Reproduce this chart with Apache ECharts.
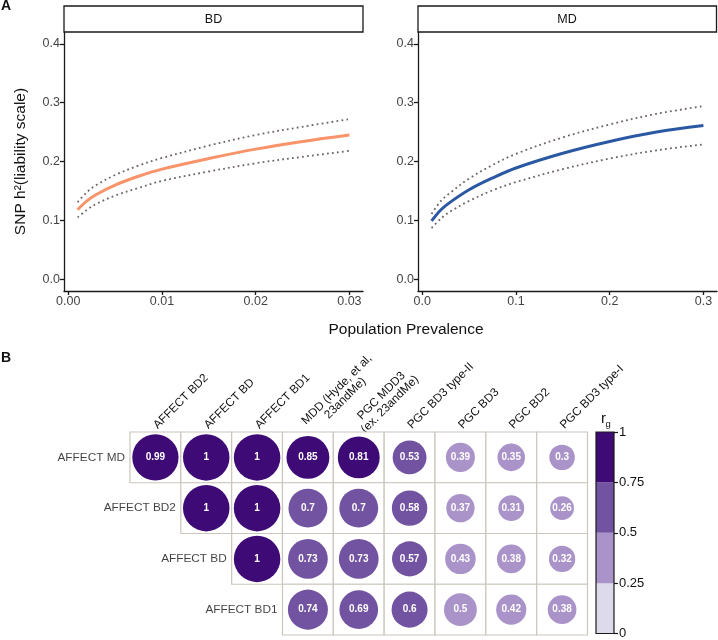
<!DOCTYPE html>
<html><head><meta charset="utf-8">
<script src="https://cdn.jsdelivr.net/npm/echarts@6/dist/echarts.min.js"></script>
<style>html,body{margin:0;padding:0;background:#fff}#c{width:718px;height:640px}</style>
</head><body><div id="c"></div>
<script>
// ---------- Panel A data ----------
const bdK     = [0.001, 0.002, 0.003, 0.005, 0.0075, 0.01, 0.015, 0.02, 0.025, 0.03];
const bdH2    = [0.118, 0.133, 0.144, 0.160, 0.175, 0.187, 0.205, 0.221, 0.234, 0.245];
const bdUpper = [0.131, 0.148, 0.160, 0.177, 0.193, 0.206, 0.227, 0.245, 0.259, 0.272];
const bdLower = [0.105, 0.118, 0.128, 0.142, 0.155, 0.167, 0.183, 0.197, 0.208, 0.218];

const mdK     = [0.01, 0.02, 0.03, 0.05, 0.075, 0.1, 0.15, 0.2, 0.25, 0.3];
const mdH2    = [0.099, 0.118, 0.131, 0.152, 0.172, 0.189, 0.214, 0.234, 0.250, 0.261];
const mdUpper = [0.111, 0.133, 0.147, 0.171, 0.194, 0.213, 0.241, 0.263, 0.281, 0.294];
const mdLower = [0.087, 0.103, 0.115, 0.133, 0.151, 0.165, 0.187, 0.205, 0.219, 0.229];

const bdXTicks = [0, 0.01, 0.02, 0.03];
const mdXTicks = [0, 0.1, 0.2, 0.3];
const h2YTicks = [0, 0.1, 0.2, 0.3, 0.4];

// ---------- Panel B data ----------
const rowNames = ['AFFECT MD', 'AFFECT BD2', 'AFFECT BD', 'AFFECT BD1'];
const colNames = ['AFFECT BD2', 'AFFECT BD', 'AFFECT BD1', 'MDD (Hyde, et al,\n23andMe)',
                  'PGC MDD3\n(ex. 23andMe)', 'PGC BD3 type-II', 'PGC BD3', 'PGC BD2', 'PGC BD3 type-I'];
const rgAffectMD  = [0.99, 1, 1, 0.85, 0.81, 0.53, 0.39, 0.35, 0.3];
const rgAffectBD2 = [null, 1, 1, 0.7, 0.7, 0.58, 0.37, 0.31, 0.26];
const rgAffectBD  = [null, null, 1, 0.73, 0.73, 0.57, 0.43, 0.38, 0.32];
const rgAffectBD1 = [null, null, null, 0.74, 0.69, 0.6, 0.5, 0.42, 0.38];
const rgBreaks = [0, 0.25, 0.5, 0.75, 1];
const rgColors = ['#dcdaeb', '#a993c9', '#7253a1', '#3e0a76'];

// ---------- build ----------
const FONT = 'Liberation Sans, Arial, Helvetica, sans-serif';
const rgRows = [rgAffectMD, rgAffectBD2, rgAffectBD, rgAffectBD1];
const cells = [], circles = [], rowLabelPts = [];
rgRows.forEach((row, r) => {
  let first = -1;
  row.forEach((v, c) => {
    if (v === null) return;
    if (first < 0) first = c;
    cells.push([c, r]);
    circles.push([c, r, v]);
  });
  rowLabelPts.push([first, r]);
});
function rgColor(v) {
  for (let i = rgBreaks.length - 2; i >= 0; i--) if (v > rgBreaks[i]) return rgColors[i];
  return rgColors[0];
}
const pairs = (xs, ys) => xs.map((x, i) => [x, ys[i]]);

const corrGrid = {left: 130, top: 432, width: 457.5, height: 203};
const cellW = corrGrid.width / colNames.length;

const axisLineStyle = {color: '#1a1a1a', width: 1.3};
function valueX(idx, min, max, ticks, dec) {
  return {
    type: 'value', gridIndex: idx, min: min, max: max,
    axisLine: {show: true, onZero: false, lineStyle: axisLineStyle},
    axisTick: {show: true, customValues: ticks, length: 4, lineStyle: axisLineStyle},
    axisLabel: {customValues: ticks, formatter: v => v.toFixed(dec), fontSize: 12.5, color: '#444', margin: 4, fontFamily: FONT},
    splitLine: {show: false}
  };
}
function valueY(idx, withName) {
  const o = {
    type: 'value', gridIndex: idx, min: -0.02, max: 0.42,
    axisLine: {show: true, onZero: false, lineStyle: axisLineStyle},
    axisTick: {show: true, customValues: h2YTicks, length: 4, lineStyle: axisLineStyle},
    axisLabel: {customValues: h2YTicks, formatter: v => v.toFixed(1), fontSize: 12.5, color: '#444', margin: 4, fontFamily: FONT},
    splitLine: {show: false}
  };
  if (withName) {
    o.name = 'SNP h\u00b2(liability scale)';
    o.nameLocation = 'middle';
    o.nameGap = 35;
    o.nameTextStyle = {fontSize: 15.5, color: '#111', fontFamily: FONT};
  }
  return o;
}
const dotted = (color) => ({color: color, width: 1.8, type: [1.8, 3.2]});
function lineSeries(ix, data, style, z) {
  return {type: 'line', xAxisIndex: ix, yAxisIndex: ix, data: data, symbol: 'none', showSymbol: false,
          smooth: 0.35, lineStyle: style, z: z, silent: true};
}
const dotColor = '#6f6464';

const barSeries = rgColors.map((col, i) => ({
  type: 'bar', xAxisIndex: 3, yAxisIndex: 3, stack: 'rg', barWidth: '100%',
  data: [rgBreaks[i + 1] - rgBreaks[i]], itemStyle: {color: col}, silent: true
}));

const option = {
  animation: false,
  backgroundColor: '#fff',
  textStyle: {fontFamily: FONT},
  grid: [
    {left: 64, top: 32, width: 299, height: 259},
    {left: 418, top: 32, width: 299, height: 259},
    corrGrid,
    {left: 596, top: 432, width: 18, height: 202, show: true, borderColor: '#1a1a1a', borderWidth: 1.2,
     backgroundColor: 'transparent', z: 10}
  ],
  xAxis: [
    valueX(0, -0.00045, 0.03145, bdXTicks, 2),
    valueX(1, -0.0045, 0.3145, mdXTicks, 1),
    {type: 'category', gridIndex: 2, data: colNames, position: 'top',
     axisLine: {show: false}, axisTick: {show: false}, splitLine: {show: false},
     axisLabel: {interval: 0, rotate: -45, margin: 5, fontSize: 11.8, color: '#111', fontFamily: FONT,
                 formatter: v => v.split('\n').map(s => '{c|' + s + '}').join('\n'),
                 rich: {c: {align: 'center', fontSize: 11.8, color: '#111', fontFamily: FONT, lineHeight: 12}}}},
    {type: 'category', gridIndex: 3, data: ['rg'], show: false}
  ],
  yAxis: [
    valueY(0, true),
    valueY(1, false),
    {type: 'category', gridIndex: 2, data: rowNames, inverse: true, show: false},
    {type: 'value', gridIndex: 3, min: 0, max: 1, interval: 0.25, position: 'right',
     axisLine: {show: false}, axisTick: {show: true, length: 4, lineStyle: {color: '#1a1a1a', width: 1.2}},
     axisLabel: {fontSize: 13, color: '#111', margin: 5, fontFamily: FONT}, splitLine: {show: false}}
  ],
  series: [
    lineSeries(0, pairs(bdK, bdUpper), dotted(dotColor), 2),
    lineSeries(0, pairs(bdK, bdLower), dotted(dotColor), 2),
    lineSeries(0, pairs(bdK, bdH2), {color: '#f8936a', width: 3}, 3),
    lineSeries(1, pairs(mdK, mdUpper), dotted(dotColor), 2),
    lineSeries(1, pairs(mdK, mdLower), dotted(dotColor), 2),
    lineSeries(1, pairs(mdK, mdH2), {color: '#2a58a3', width: 3}, 3),
    {type: 'custom', xAxisIndex: 2, yAxisIndex: 2, data: cells, silent: true, z: 1,
     renderItem: function (params, api) {
       const c = api.coord([api.value(0), api.value(1)]);
       const s = api.size([1, 1]);
       return {type: 'rect', shape: {x: c[0] - s[0] / 2, y: c[1] - s[1] / 2, width: s[0], height: s[1]},
               style: {fill: '#fff', stroke: '#cbc5bc', lineWidth: 1.2}};
     }},
    {type: 'scatter', xAxisIndex: 2, yAxisIndex: 2, data: circles, z: 3, silent: true,
     symbol: 'circle', symbolSize: v => 46.5 * Math.sqrt(v[2]),
     itemStyle: {color: p => rgColor(p.data[2]), opacity: 1},
     label: {show: true, position: 'inside', formatter: p => String(p.data[2]), color: '#fff',
             fontSize: 10, fontWeight: 'bold', fontFamily: FONT}},
    {type: 'scatter', xAxisIndex: 2, yAxisIndex: 2, data: rowLabelPts, z: 3, silent: true,
     symbol: 'rect', symbolSize: [cellW, 1], itemStyle: {color: 'rgba(0,0,0,0)'},
     label: {show: true, position: 'left', distance: 5, formatter: p => rowNames[p.data[1]],
             color: '#111', fontSize: 11.8, fontFamily: FONT}}
  ].concat(barSeries),
  graphic: [
    {type: 'rect', shape: {x: 64, y: 6, width: 299, height: 26}, style: {fill: '#fff', stroke: '#1a1a1a', lineWidth: 1.3}, z: 5},
    {type: 'text', x: 213.5, y: 19.5, style: {text: 'BD', fontSize: 12.5, fill: '#111', align: 'center', verticalAlign: 'middle', fontFamily: FONT}, z: 6},
    {type: 'rect', shape: {x: 418, y: 6, width: 298.5, height: 26}, style: {fill: '#fff', stroke: '#1a1a1a', lineWidth: 1.3}, z: 5},
    {type: 'text', x: 567, y: 19.5, style: {text: 'MD', fontSize: 12.5, fill: '#111', align: 'center', verticalAlign: 'middle', fontFamily: FONT}, z: 6},
    {type: 'text', x: 406, y: 330, style: {text: 'Population Prevalence', fontSize: 15.5, fill: '#111', align: 'center', verticalAlign: 'middle', fontFamily: FONT}},
    {type: 'text', x: 1, y: 6, style: {text: 'A', fontSize: 14, fontWeight: 'bold', fill: '#111', align: 'left', verticalAlign: 'middle', fontFamily: FONT}},
    {type: 'text', x: 1, y: 358, style: {text: 'B', fontSize: 14, fontWeight: 'bold', fill: '#111', align: 'left', verticalAlign: 'middle', fontFamily: FONT}},
    {type: 'text', x: 601, y: 418.5, style: {text: 'r', fontSize: 15, fill: '#111', align: 'left', verticalAlign: 'middle', fontFamily: FONT}},
    {type: 'text', x: 605.5, y: 424.5, style: {text: 'g', fontSize: 9.5, fill: '#111', align: 'left', verticalAlign: 'middle', fontFamily: FONT}}
  ]
};
const chart = echarts.init(document.getElementById('c'), null, {renderer: 'canvas'});
chart.setOption(option);
</script></body></html>
